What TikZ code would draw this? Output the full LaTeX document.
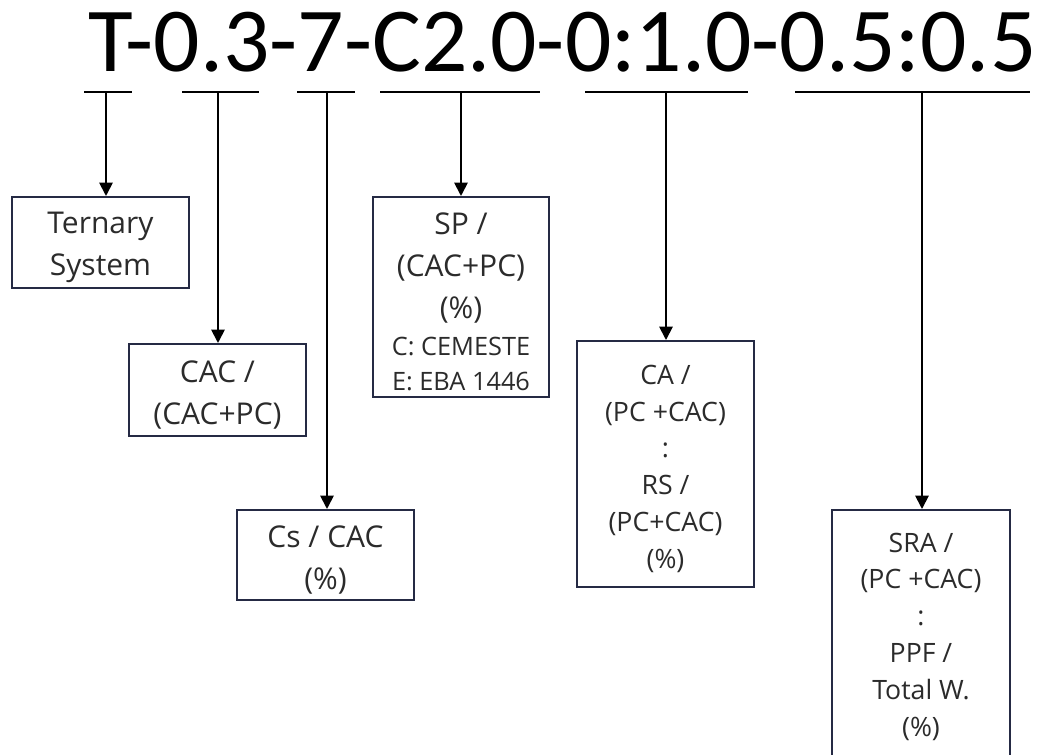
\documentclass[tikz,border=0pt]{standalone}
\usepackage{fontspec}
\setmainfont{Open Sans}
\newfontfamily\titlefont{Carlito}
\usetikzlibrary{arrows.meta}
\definecolor{boxline}{HTML}{252A44}
\definecolor{txt}{HTML}{2B2B2B}
\tikzset{
  box/.style={draw=boxline, line width=1.5pt, inner sep=0pt, minimum width=132.75pt},
  bigtext/.style={inner sep=0pt, align=center, text=txt, font=\fontsize{22.5}{31.5}\selectfont},
  smalltext/.style={inner sep=0pt, align=center, text=txt, font=\fontsize{20}{27.6}\selectfont},
  conn/.style={line width=1.4pt, draw=black},
  arr/.style={conn, -{Triangle[width=10pt,length=10pt]}},
}
\begin{document}
\begin{tikzpicture}[x=0.75pt,y=-0.75pt]
\useasboundingbox (0,0) rectangle (1047,755);
\clip (0,0) rectangle (1047,755);
% title
\node[anchor=base west, inner sep=0pt] (title) at (88,72)
  {\resizebox{711pt}{44.5pt}{\titlefont T-0.3-7-C2.0-0:1.0-0.5:0.5}};
% underline coordinates
\coordinate (a1) at (84,92);  \coordinate (b1) at (132,92);  \coordinate (u1) at (106,92);
\coordinate (a2) at (182,92); \coordinate (b2) at (259,92);  \coordinate (u2) at (218,92);
\coordinate (a3) at (297,92); \coordinate (b3) at (355,92);  \coordinate (u3) at (327,92);
\coordinate (a4) at (380,92); \coordinate (b4) at (540,92);  \coordinate (u4) at (461,92);
\coordinate (a5) at (585,92); \coordinate (b5) at (748,92);  \coordinate (u5) at (666,92);
\coordinate (a6) at (795,92); \coordinate (b6) at (1030,92); \coordinate (u6) at (922,92);
\foreach \i in {1,...,6} { \draw[conn] (a\i) -- (b\i); }
% boxes
\node[box, minimum height=68.25pt] (tern) at (100.5,242.5) {};
\node[box, minimum height=69pt] (cac) at (217.5,390) {};
\node[box, minimum height=67.5pt] (cs) at (325.5,555) {};
\node[box, minimum height=150pt, minimum width=132pt] (sp) at (461,297) {};
\node[box, minimum height=184.5pt] (ca) at (665.5,464) {};
\node[box, minimum height=187.5pt, minimum width=133.5pt] (sra) at (921,635) {};
% box texts
\node[bigtext, yshift=-3.5pt] (tern-t) at (tern.center) {Ternary\\System};
\node[bigtext, yshift=-3.5pt] (cac-t) at (cac.center) {CAC /\\(CAC+PC)};
\node[bigtext, yshift=-3.5pt] (cs-t) at (cs.center) {Cs / CAC\\(\%)};
\node[bigtext, yshift=-3.5pt] (sp-t) at (sp.center)
  {SP /\\(CAC+PC)\\(\%)\\[-3.75pt]{\fontsize{19}{26}\selectfont C: CEMESTE}\\[-5.25pt]{\fontsize{19}{26}\selectfont E: EBA 1446}};
\node[smalltext, yshift=-3.5pt] (ca-t) at (ca.center)
  {CA /\\(PC +CAC)\\:\\RS /\\(PC+CAC)\\(\%)};
\node[smalltext, yshift=-1.2pt] (sra-t) at (sra.center)
  {SRA /\\(PC +CAC)\\:\\PPF /\\Total W.\\(\%)};
% connectors
\draw[arr] (u1) -- (u1 |- tern.north);
\draw[arr] (u2) -- (u2 |- cac.north);
\draw[arr] (u3) -- (u3 |- cs.north);
\draw[arr] (u4) -- (u4 |- sp.north);
\draw[arr] (u5) -- (u5 |- ca.north);
\draw[arr] (u6) -- (u6 |- sra.north);
\end{tikzpicture}
\end{document}
